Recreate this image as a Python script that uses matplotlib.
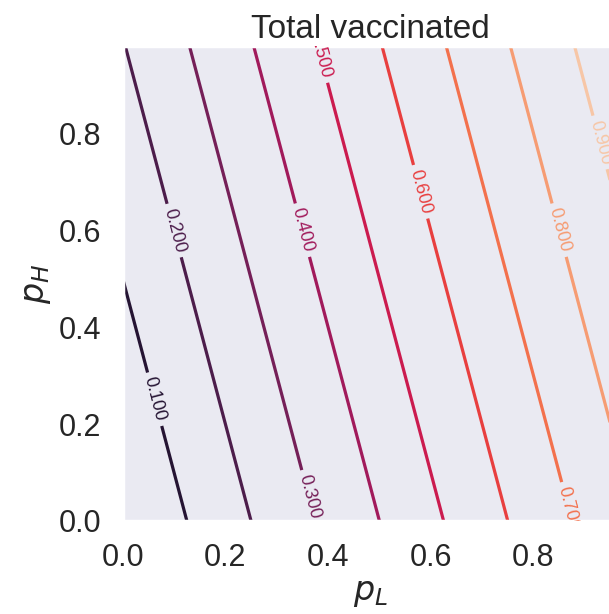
import numpy as np
import matplotlib
matplotlib.use("Agg")
import matplotlib.pyplot as plt
import seaborn as sns

# Сетка долей вакцинированных в группах L и H
p_L = np.arange(0, 1, 0.02)
p_H = np.arange(0, 1, 0.02)

# Доли групп в популяции
share_L = 0.8
share_H = 0.2

levels = [0.1, 0.2, 0.3, 0.4, 0.5, 0.6, 0.7, 0.8, 0.9]

# Где ставить подписи линий (подсказки для clabel)
label_spots = [(0.058, 0.25), (0.103, 0.60), (0.363, 0.05), (0.35, 0.60),
               (0.388, 0.96), (0.583, 0.68), (0.868, 0.025), (0.85, 0.60),
               (0.926, 0.78)]

sns.set_theme(style="dark", context="poster")
plt.rcParams['font.family'] = ['Liberation Sans', 'DejaVu Sans']

PL, PH = np.meshgrid(p_L, p_H)
total = share_L * PL + share_H * PH

fig = plt.figure(figsize=(6.09, 6.14), dpi=100)
ax = fig.add_axes([0.2015, 0.1515, 0.8144, 0.7736])

cs = ax.contour(PL, PH, total, levels=levels, cmap=sns.color_palette("rocket", as_cmap=True),
                norm=plt.Normalize(0, 1), linewidths=2.3)
ax.clabel(cs, inline=True, fmt='%1.3f', fontsize=13, manual=label_spots)

ax.set_xlim(0, 0.966)
ax.set_xticks([0.0, 0.2, 0.4, 0.6, 0.8])
ax.set_yticks([0.0, 0.2, 0.4, 0.6, 0.8])
ax.set_title('Total vaccinated')
ax.set_xlabel('$p_L$')
ax.set_ylabel('$p_H$')

fig.savefig('out.png', dpi=100)
